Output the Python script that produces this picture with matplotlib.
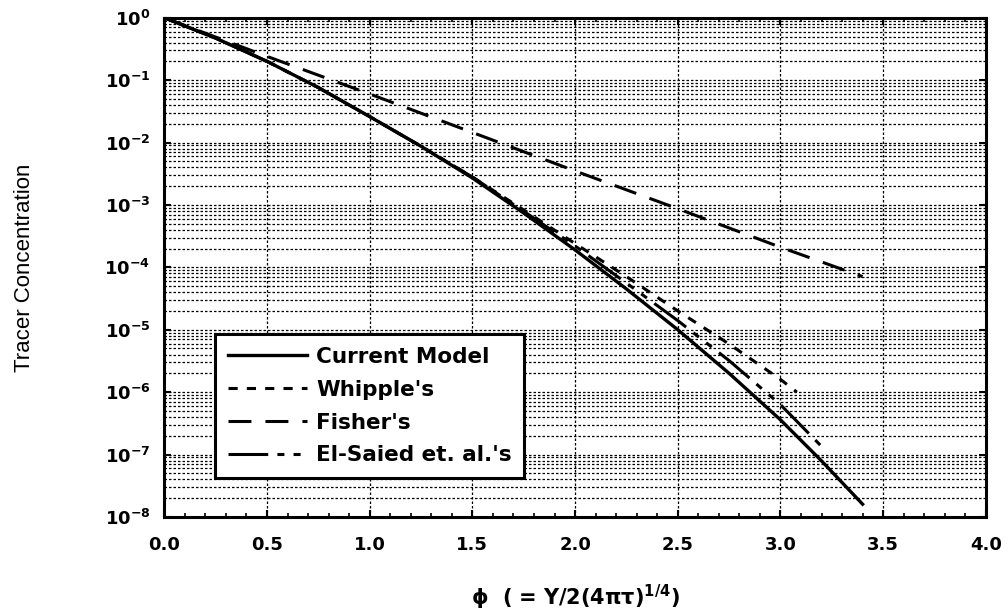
import math

import matplotlib
matplotlib.use("Agg")
import matplotlib.pyplot as plt
from matplotlib.ticker import MultipleLocator, LogLocator, NullFormatter, FuncFormatter

# values
current_phi = [0.0, 0.25, 0.5, 0.75, 1.0, 1.25, 1.5, 1.75, 2.0, 2.25, 2.5, 2.75, 3.0, 3.2, 3.4]
current_c = [1.0, 0.47, 0.20, 0.076, 0.026, 8.7e-3, 2.7e-3, 7.4e-4, 1.9e-4, 4.5e-5,
             1.0e-5, 2.0e-6, 3.6e-7, 7.9e-8, 1.6e-8]

whipple_phi = [0.0, 0.25, 0.5, 0.75, 1.0, 1.25, 1.5, 1.75, 2.0, 2.25, 2.5, 2.75, 3.0, 3.08]
whipple_c = [1.0, 0.47, 0.20, 0.076, 0.026, 8.7e-3, 2.8e-3, 8.3e-4, 2.4e-4, 7.1e-5,
             2.0e-5, 5.9e-6, 1.6e-6, 1.0e-6]

fisher_phi = [0.0, 0.5, 1.0, 1.5, 2.0, 2.5, 3.0, 3.4]
fisher_c = [1.0, 0.24, 0.060, 0.0145, 3.5e-3, 8.7e-4, 2.1e-4, 7.1e-5]

elsaied_phi = [0.0, 0.25, 0.5, 0.75, 1.0, 1.25, 1.5, 1.75, 2.0, 2.25, 2.5, 2.75, 3.0, 3.2]
elsaied_c = [1.0, 0.47, 0.20, 0.076, 0.026, 8.7e-3, 2.8e-3, 7.9e-4, 2.2e-4, 5.6e-5,
             1.4e-5, 3.2e-6, 6.3e-7, 1.35e-7]

labels = ["Current Model", "Whipple's", "Fisher's", "El-Saied et. al.'s"]

plt.rcParams["mathtext.fontset"] = "dejavusans"

fig, ax = plt.subplots(figsize=(10.08, 6.11), dpi=100)
fig.subplots_adjust(left=0.163, right=0.978, top=0.971, bottom=0.154)

ax.set_yscale("log")
ax.set_xlim(0, 4)
ax.set_ylim(1e-8, 1)

lw = 2.2
ax.plot(current_phi, current_c, color="black", lw=2.4, ls="-", label=labels[0], zorder=4)
ax.plot(whipple_phi, whipple_c, color="black", lw=lw, ls=(0, (3.0, 3.0)), label=labels[1], zorder=4)
ax.plot(fisher_phi, fisher_c, color="black", lw=lw, ls=(0, (7.5, 4.6)), label=labels[2], zorder=4)
ax.plot(elsaied_phi, elsaied_c, color="black", lw=lw,
        ls=(0, (13, 3, 2.3, 3, 2.3, 3)), label=labels[3], zorder=4)

# grid
grid_ls = (0, (2.0, 1.6))
ax.xaxis.set_major_locator(MultipleLocator(0.5))
ax.xaxis.set_minor_locator(MultipleLocator(0.1))
ax.yaxis.set_major_locator(LogLocator(base=10, numticks=20))
ax.yaxis.set_minor_locator(LogLocator(base=10, subs=[2, 3, 4, 5, 6, 7, 8, 9], numticks=100))
ax.yaxis.set_minor_formatter(NullFormatter())
ax.xaxis.grid(True, which="major", color="black", lw=0.9, ls=grid_ls)
ax.yaxis.grid(True, which="both", color="black", lw=0.9, ls=grid_ls)
ax.set_axisbelow(True)

for s in ax.spines.values():
    s.set_linewidth(2.2)

ax.tick_params(which="major", direction="in", length=5, width=1.5, top=True, right=True, pad=14)
ax.tick_params(axis="x", which="minor", direction="in", length=3, width=1.2, top=True)
ax.tick_params(axis="y", which="minor", length=0)
ax.tick_params(axis="y", which="major", pad=10)

ax.xaxis.set_major_formatter(FuncFormatter(lambda v, p: f"{v:.1f}"))
ax.yaxis.set_major_formatter(FuncFormatter(lambda v, p: r"$\mathbf{10^{%d}}$" % round(math.log10(v))))
for t in ax.get_xticklabels():
    t.set_fontsize(13)
    t.set_fontweight("bold")
for t in ax.get_yticklabels():
    t.set_fontsize(13)

ax.set_ylabel("Tracer Concentration", family="Liberation Sans", fontsize=16)
ax.yaxis.set_label_coords(-0.158, 0.5)
ax.set_xlabel(r"$\mathbf{\phi}$  ( = Y/2(4$\mathbf{\pi\tau}$)$^{\mathbf{1/4}}$)", fontsize=15, fontweight="bold")
ax.xaxis.set_label_coords(0.5, -0.132)

leg = ax.legend(loc="lower left", bbox_to_anchor=(0.062, 0.078), fancybox=False, framealpha=1,
                edgecolor="black", handlelength=3.7, handletextpad=0.4,
                borderpad=0.58, labelspacing=0.6, borderaxespad=0,
                prop={"weight": "bold", "size": 15.5})
leg.get_frame().set_linewidth(2.2)
leg.set_zorder(5)

fig.savefig("out.png", dpi=100)
